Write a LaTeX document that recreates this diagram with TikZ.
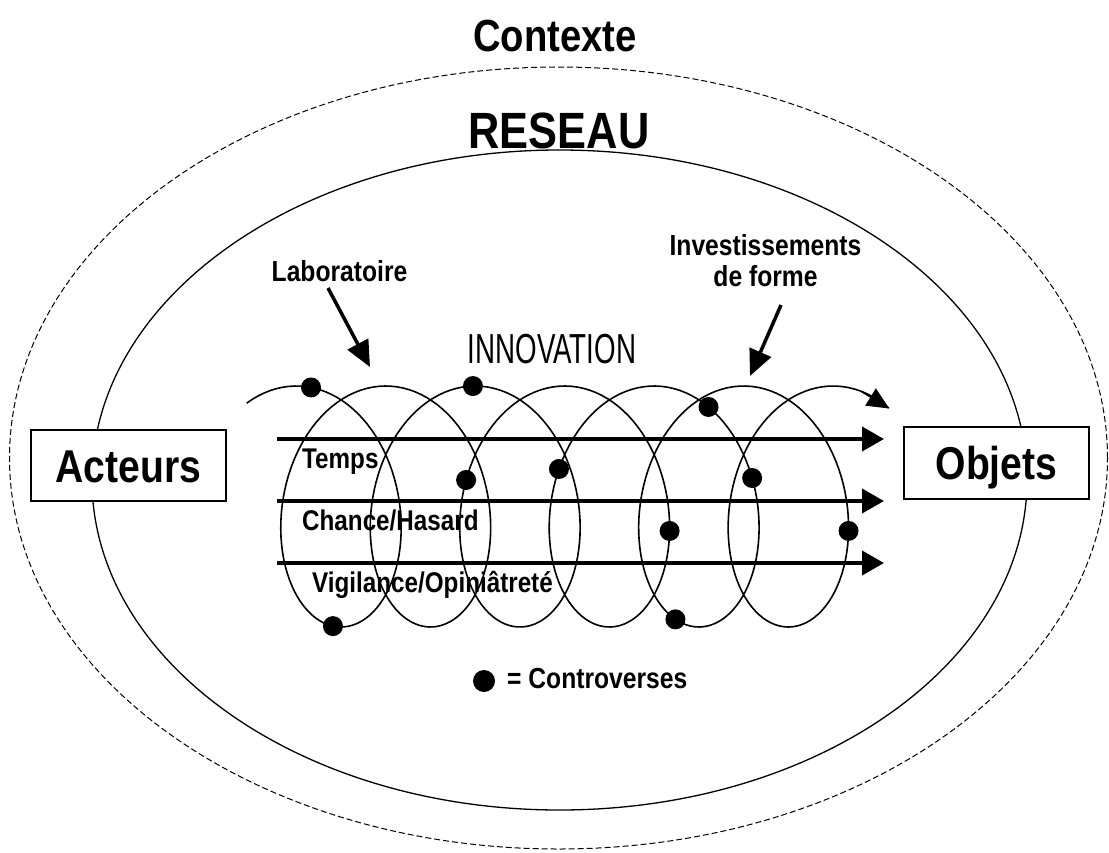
\documentclass[tikz,border=0pt]{standalone}
\usepackage{fontspec}
\setmainfont{Liberation Sans}
\newfontfamily\narrowfont[FakeStretch=0.85]{Liberation Sans}
\newfontfamily\condfont[FakeStretch=0.66]{Liberation Sans}
\usetikzlibrary{arrows.meta}
\begin{document}
\begin{tikzpicture}[x=1pt,y=-1pt,
  lbl/.style={inner sep=0pt, anchor=base},
  lblw/.style={inner sep=0pt, anchor=base west},
  bigfont/.style={font=\narrowfont\bfseries\fontsize{#1}{#1}\selectfont},
  box/.style={draw, line width=1.4pt, fill=white, inner sep=0pt,
              text height=33pt, text depth=0pt,
              font=\narrowfont\bfseries\fontsize{46}{50}\selectfont},
  thickarrow/.style={line width=4pt, -{Triangle[length=22pt,width=24pt]}},
  pointer/.style={line width=3.5pt, -{Triangle[length=26pt,width=23pt]}},
  spiralline/.style={line width=1.6pt},
  dotstyle/.style={fill=black}]
\useasboundingbox (0,0) rectangle (1109,852);
\fill[white] (0,0) rectangle (1109,852);

% context and network
\draw[line width=1pt, dash pattern=on 6pt off 3pt] (558.5,458) ellipse [x radius=549pt, y radius=391pt];
\draw[line width=1.3pt] (559.5,480) ellipse [x radius=467.5pt, y radius=330pt];

\node[lbl, bigfont=45] (ctx) at (555,51) {Contexte};
\node[lbl, bigfont=51] (res) at (559,148) {RESEAU};

% boxes
\node[box, minimum width=195pt, minimum height=71pt] (act) at (128.5,465.5) {Acteurs};
\node[box, minimum width=185pt, minimum height=72pt] (obj) at (996.5,463) {Objets};

% spiral
\draw[spiralline] plot[domain=-0.54:38.32, samples=600]
  ({296.25+14.24*\x+81.35*sin(\x r)},{506.5-120.5*cos(\x r)});
\coordinate (se0) at ({296.25+14.24*38.0+81.35*sin(38.0 r)},{506.5-120.5*cos(38.0 r)});
\coordinate (se1) at ({296.25+14.24*38.32+81.35*sin(38.32 r)},{506.5-120.5*cos(38.32 r)});
\draw[spiralline, -{Triangle[length=22pt,width=20pt]}] (se0) -- (se1);

% horizontal arrows
\coordinate (a1s) at (277,439); \coordinate (a1e) at (884,439);
\coordinate (a2s) at (277,501); \coordinate (a2e) at (884,501);
\coordinate (a3s) at (277,563); \coordinate (a3e) at (884,563);
\draw[thickarrow] (a1s) -- (a1e);
\draw[thickarrow] (a2s) -- (a2e);
\draw[thickarrow] (a3s) -- (a3e);

% controversies (dots on the spiral)
\foreach \t [count=\i] in {0.155, 12.5428, 25.7317, 17.5006, 23.8787, 26.4647, 20.6246, 33.1909, 28.6327, 3.2616} {
  \coordinate (d\i) at ({296.25+14.24*\t+81.35*sin(\t r)},{506.5-120.5*cos(\t r)});
  \fill[dotstyle] (d\i) circle[radius=10pt];
}

% labels
\node[lbl, bigfont=29] (lab) at (339.5,281) {Laboratoire};
\coordinate (labs) at (328,288); \coordinate (labe) at (370,367);
\draw[pointer] (labs) -- (labe);

\node[lbl, bigfont=29] (inv) at (765.5,255) {Investissements};
\node[lbl, bigfont=29] (invb) at (765.5,286) {de forme};
\coordinate (invs) at (781,305); \coordinate (inve) at (750,376);
\draw[pointer] (invs) -- (inve);

\node[lbl, font=\condfont\fontsize{42}{42}\selectfont] (innov) at (552,363) {INNOVATION};

\node[lblw, bigfont=28.5] (temps) at (302,468) {Temps};
\node[lblw, bigfont=28.5] (chance) at (302,530) {Chance/Hasard};
\node[lblw, bigfont=28.5] (vigil) at (312,592) {Vigilance/Opiniâtreté};

% legend
\coordinate (legdot) at (484,681);
\fill[dotstyle] (legdot) circle[radius=11pt];
\node[lblw, bigfont=29] (legtxt) at (507,688) {= Controverses};
\end{tikzpicture}
\end{document}
